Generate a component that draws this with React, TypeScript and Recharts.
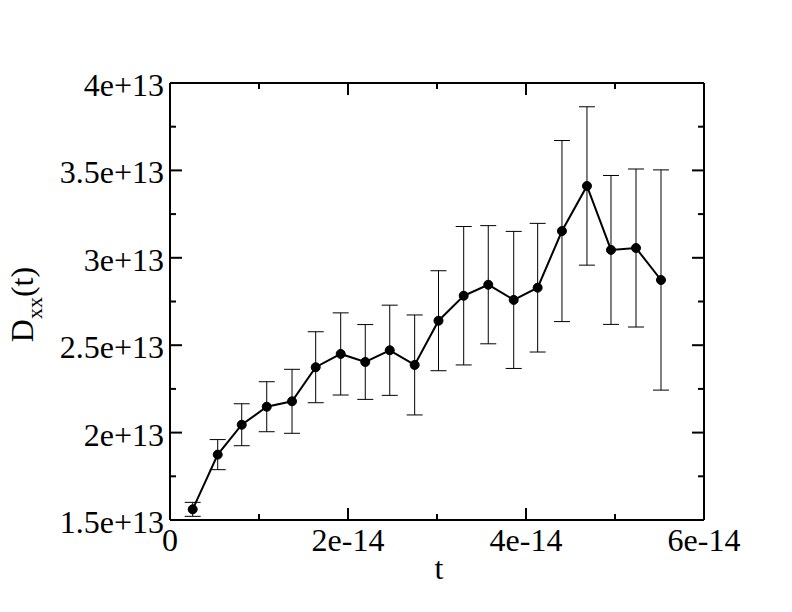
import React from 'react';
import { ComposedChart, Line, XAxis, YAxis, ErrorBar } from 'recharts';

const tValues = [
  2.55e-15, 5.36e-15, 8.06e-15, 1.087e-14, 1.371e-14, 1.637e-14, 1.918e-14, 2.194e-14, 2.469e-14, 2.749e-14,
  3.017e-14, 3.3e-14, 3.576e-14, 3.862e-14, 4.131e-14, 4.404e-14, 4.685e-14, 4.955e-14, 5.236e-14, 5.517e-14,
];
const dxxValues = [
  1.561e13, 1.874e13, 2.045e13, 2.148e13, 2.179e13, 2.374e13, 2.45e13, 2.404e13, 2.471e13, 2.387e13,
  2.64e13, 2.783e13, 2.846e13, 2.759e13, 2.829e13, 3.153e13, 3.411e13, 3.045e13, 3.056e13, 2.873e13,
];
const dxxErrors = [
  0.04e13, 0.086e13, 0.12e13, 0.143e13, 0.183e13, 0.203e13, 0.235e13, 0.214e13, 0.258e13, 0.286e13,
  0.286e13, 0.396e13, 0.338e13, 0.392e13, 0.368e13, 0.518e13, 0.453e13, 0.426e13, 0.452e13, 0.63e13,
];

const xTicks = [0, 1e-14, 2e-14, 3e-14, 4e-14, 5e-14, 6e-14];
const xTickLabels: Record<number, string> = { 0: '0', 2: '2e-14', 4: '4e-14', 6: '6e-14' };
const yTicks = [1.5e13, 1.75e13, 2e13, 2.25e13, 2.5e13, 2.75e13, 3e13, 3.25e13, 3.5e13, 3.75e13, 4e13];
const yTickLabels: Record<number, string> = {
  0: '1.5e+13', 2: '2e+13', 4: '2.5e+13', 6: '3e+13', 8: '3.5e+13', 10: '4e+13',
};

const data = tValues.map((t, i) => ({ t, d: dxxValues[i], err: dxxErrors[i] }));

const FONT = 'Liberation Serif, Times New Roman, DejaVu Serif, serif';
const textStyle = { fontFamily: FONT };
const MAJOR = 12;
const MINOR = 6;

const BottomTick = (props: any) => {
  const { x, y, index } = props;
  const label = xTickLabels[index];
  const major = label !== undefined;
  return (
    <g>
      <line x1={x} y1={y} x2={x} y2={y - (major ? MAJOR : MINOR)} stroke="#000" strokeWidth={2} />
      {major && (
        <text x={x} y={y + 31} textAnchor="middle" style={textStyle} fontSize={32} fill="#000">
          {label}
        </text>
      )}
    </g>
  );
};

const TopTick = (props: any) => {
  const { x, y, index } = props;
  const major = xTickLabels[index] !== undefined;
  return <line x1={x} y1={y} x2={x} y2={y + (major ? MAJOR : MINOR)} stroke="#000" strokeWidth={2} />;
};

const LeftTick = (props: any) => {
  const { x, y, index } = props;
  const label = yTickLabels[index];
  const major = label !== undefined;
  return (
    <g>
      <line x1={x} y1={y} x2={x + (major ? MAJOR : MINOR)} y2={y} stroke="#000" strokeWidth={2} />
      {major && (
        <text x={x - 6} y={y + 13} textAnchor="end" style={textStyle} fontSize={32} fill="#000">
          {label}
        </text>
      )}
    </g>
  );
};

const RightTick = (props: any) => {
  const { x, y, index } = props;
  const major = yTickLabels[index] !== undefined;
  return <line x1={x} y1={y} x2={x - (major ? MAJOR : MINOR)} y2={y} stroke="#000" strokeWidth={2} />;
};

const YLabel = (props: any) => {
  const vb = props.viewBox || { x: 0, y: 83, width: 170, height: 437 };
  const cx = 33;
  const cy = vb.y + vb.height / 2 + 3;
  return (
    <text
      x={cx}
      y={cy}
      transform={`rotate(-90, ${cx}, ${cy})`}
      textAnchor="middle"
      style={textStyle}
      fontSize={32}
      fill="#000"
    >
      D
      <tspan fontSize={22} dy={9}>
        xx
      </tspan>
      <tspan fontSize={32} dy={-9}>
        (t)
      </tspan>
    </text>
  );
};

const XLabel = (props: any) => {
  const vb = props.viewBox || { x: 170, y: 520, width: 534, height: 40 };
  return (
    <text x={vb.x + vb.width / 2 + 2} y={579} textAnchor="middle" style={textStyle} fontSize={32} fill="#000">
      t
    </text>
  );
};

export default function App() {
  return (
    <div style={{ position: 'absolute', left: 0, top: 0, width: 792, height: 612, background: '#fff' }}>
      <ComposedChart
        width={792}
        height={612}
        data={data}
        margin={{ top: 73, right: 78, bottom: 52, left: 110 }}
      >
        <XAxis
          xAxisId="main"
          dataKey="t"
          type="number"
          domain={[0, 6e-14]}
          ticks={xTicks}
          interval={0}
          allowDataOverflow
          height={40}
          tickSize={0}
          tickMargin={0}
          tickLine={false}
          axisLine={{ stroke: '#000', strokeWidth: 2 }}
          tick={<BottomTick />}
          label={<XLabel />}
        />
        <XAxis
          xAxisId="top"
          orientation="top"
          dataKey="t"
          type="number"
          domain={[0, 6e-14]}
          ticks={xTicks}
          interval={0}
          allowDataOverflow
          height={10}
          tickSize={0}
          tickMargin={0}
          tickLine={false}
          axisLine={{ stroke: '#000', strokeWidth: 2 }}
          tick={<TopTick />}
        />
        <YAxis
          yAxisId="main"
          type="number"
          domain={[1.5e13, 4e13]}
          ticks={yTicks}
          interval={0}
          allowDataOverflow
          width={60}
          tickSize={0}
          tickMargin={0}
          tickLine={false}
          axisLine={{ stroke: '#000', strokeWidth: 2 }}
          tick={<LeftTick />}
          label={<YLabel />}
        />
        <YAxis
          yAxisId="right"
          orientation="right"
          type="number"
          domain={[1.5e13, 4e13]}
          ticks={yTicks}
          interval={0}
          allowDataOverflow
          width={10}
          tickSize={0}
          tickMargin={0}
          tickLine={false}
          axisLine={{ stroke: '#000', strokeWidth: 2 }}
          tick={<RightTick />}
        />
        <Line
          xAxisId="main"
          yAxisId="main"
          dataKey="d"
          type="linear"
          stroke="#000"
          strokeWidth={2}
          dot={{ r: 4.5, fill: '#000', stroke: '#000', strokeWidth: 1 }}
          activeDot={false}
          isAnimationActive={false}
        >
          <ErrorBar dataKey="err" direction="y" width={8} stroke="#000" strokeWidth={1} isAnimationActive={false} />
        </Line>
      </ComposedChart>
    </div>
  );
}
